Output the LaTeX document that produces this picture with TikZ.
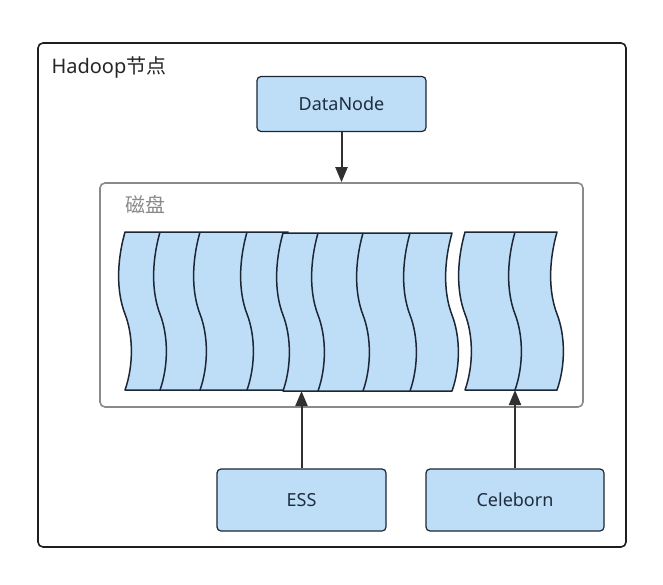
\documentclass[tikz,border=0pt]{standalone}
\usepackage{fontspec}
\setmainfont{Noto Sans}
\newfontfamily\cjk{Noto Sans CJK SC}
\usepackage{tikz}
\usetikzlibrary{positioning,calc,arrows.meta}
\definecolor{BoxBlue}{RGB}{190,222,248}
\definecolor{BoxLine}{RGB}{28,38,52}
\definecolor{TextNavy}{RGB}{30,45,62}
\definecolor{DiskGray}{RGB}{138,138,138}
\definecolor{ArrowGray}{RGB}{48,48,48}

% one S-shaped edge of a strip, top to bottom and back up
\newcommand{\wavedown}{.. controls +(-8.5,30) and +(-8.5,-22) .. ++(0,82) .. controls +(8.5,22) and +(8.5,-24) .. ++(0,76)}
\newcommand{\waveup}{.. controls +(8.5,-24) and +(8.5,22) .. ++(0,-76) .. controls +(-8.5,-22) and +(-8.5,30) .. ++(0,-82)}

\begin{document}
\begin{tikzpicture}[
    x=1pt, y=-1pt,
    font=\fontsize{18}{22}\selectfont,
    >={Triangle[length=15pt,width=12pt]},
    box/.style={
        draw=BoxLine,
        rounded corners=4pt,
        line width=1.2pt,
        align=center,
        minimum width=169pt,
        minimum height=55pt,
        fill=BoxBlue,
        text=TextNavy
    },
    diskbox/.style={
        draw=DiskGray,
        rounded corners=5pt,
        line width=1.6pt,
        minimum width=483pt,
        minimum height=224pt
    },
    outerbox/.style={
        draw=black!88,
        rounded corners=5pt,
        line width=1.6pt,
        minimum width=588pt,
        minimum height=504pt
    },
    strip/.style={
        draw=BoxLine,
        fill=BoxBlue,
        line width=1.5pt,
        line join=round
    },
    stripline/.style={
        draw=BoxLine,
        line width=1.5pt
    },
    arrow/.style={
        ->,
        line width=2pt,
        draw=ArrowGray
    }
]
\useasboundingbox[fill=white] (0,0) rectangle (663,585);

\node[outerbox] (hadoop) at (332,295) {};
\node[anchor=base west, font=\fontsize{20}{24}\selectfont, text=black!85] (title) at (48,74) {Hadoop{\cjk 节点}};

\node[box] (datanode) at (341.5,104) {DataNode};

\node[diskbox] (disk) at (341.5,295) {};
\node[text=DiskGray, font=\fontsize{20}{24}\selectfont] (disklabel) at (145,205) {\cjk 磁盘};

% strips: first group, second group laid over it, third group apart
\filldraw[strip] (125,232) -- (288,232) \wavedown -- (125,390) \waveup -- cycle;
\foreach \x in {160,200,247}
    \draw[stripline] (\x,232) \wavedown;
\filldraw[strip] (283,233) -- (452,233) \wavedown -- (283,391) \waveup -- cycle;
\foreach \x in {318,363,410}
    \draw[stripline] (\x,233) \wavedown;
\filldraw[strip] (465,232) -- (557,232) \wavedown -- (465,390) \waveup -- cycle;
\draw[stripline] (515,232) \wavedown;
\coordinate (groupB) at (368,391);
\coordinate (groupC) at (511,390);

\node[box, minimum height=62pt] (ess) at (301.5,500) {ESS};
\node[box, minimum width=178pt, minimum height=62pt] (celeborn) at (515,500) {Celeborn};

\draw[arrow] (datanode) -- (disk);
\draw[arrow] (ess.north) -- (ess.north |- groupB);
\draw[arrow] (celeborn.north) -- (celeborn.north |- groupC);

\end{tikzpicture}
\end{document}
